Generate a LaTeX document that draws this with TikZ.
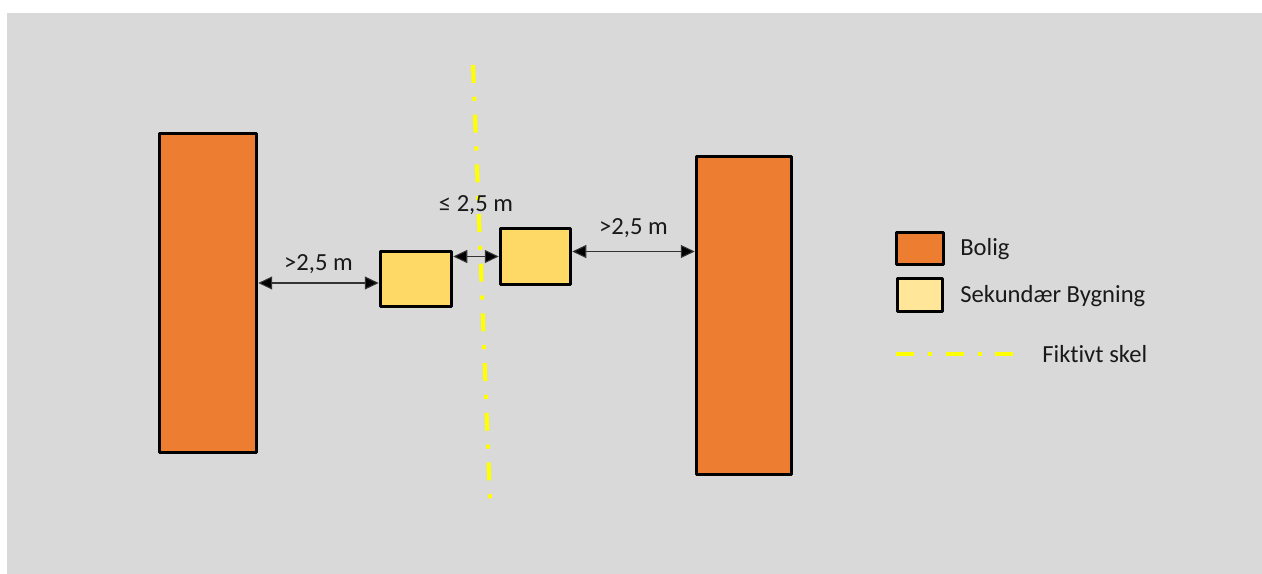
\documentclass[tikz,border=0pt]{standalone}
\usepackage{fontspec}
\setmainfont{Carlito}[Ligatures=NoCommon]
\usetikzlibrary{arrows.meta}

\definecolor{bggray}{HTML}{D9D9D9}
\definecolor{boligorange}{HTML}{ED7D31}
\definecolor{sekyellow}{HTML}{FFD966}
\definecolor{seklight}{HTML}{FFE699}
\definecolor{skelyellow}{HTML}{FFFF00}

\begin{document}
\begin{tikzpicture}[x=0.02cm,y=-0.02cm,line join=round,
  font=\fontsize{14}{16}\selectfont,text=black!90,
  bolig/.style={draw=black,line width=2pt,fill=boligorange,inner sep=0pt},
  sekbox/.style={draw=black,line width=2pt,fill=sekyellow,inner sep=0pt},
  dim/.style={draw=black!80,line width=0.6pt,
    arrows={Triangle[length=0.28cm,width=0.26cm,fill=black]-Triangle[length=0.28cm,width=0.26cm,fill=black]}},
  skel/.style={draw=skelyellow,line width=2.3pt,
    dash pattern=on 10.2pt off 7.9pt on 2.3pt off 7.9pt},
  lbl/.style={inner sep=0pt}]

\useasboundingbox (0,0) rectangle (1262,574);
\fill[bggray] (7,13) rectangle (1262,574);

% boliger
\node[bolig,minimum width=1.94cm,minimum height=6.38cm] (lbolig) at (208,293) {};
\node[bolig,minimum width=1.9cm,minimum height=6.36cm] (rbolig) at (744,315.5) {};

% sekundaere bygninger
\node[sekbox,minimum width=1.42cm,minimum height=1.1cm] (sek1) at (416,279) {};
\node[sekbox,minimum width=1.4cm,minimum height=1.12cm] (sek2) at (535.5,256.5) {};

% fiktivt skel
\coordinate (skeltop) at (473,65);
\coordinate (skelbot) at (490,500);
\draw[skel] (skeltop) -- (skelbot);

% afstande
\coordinate (dimA) at ([yshift=-0.08cm]sek1.west);
\coordinate (dimC) at ([yshift=0.1cm]sek2.east);
\draw[dim] (dimA) -- node[lbl,above=0.18cm] {>2,5 m} (lbolig.east |- dimA);
\draw[dim] (sek1.east |- sek2.west) -- node[lbl,above=0.82cm] {≤ 2,5 m} (sek2.west);
\draw[dim] (dimC) -- node[lbl,above=0.26cm] {>2,5 m} (rbolig.west |- dimC);

% signatur
\node[bolig,minimum width=0.94cm,minimum height=0.64cm] (legbolig) at (920,248.5) {};
\node[lbl,anchor=west] (txtbolig) at (960,249) {Bolig};
\node[sekbox,fill=seklight,minimum width=0.9cm,minimum height=0.66cm] (legsek) at (920,295) {};
\node[lbl,anchor=west] (txtsek) at (960,296) {Sekundær Bygning};
\coordinate (legskela) at (896,354);
\coordinate (legskelb) at (1015,354);
\draw[skel] (legskela) -- (legskelb);
\node[lbl,anchor=west] (txtskel) at (1042,354) {Fiktivt skel};

\end{tikzpicture}
\end{document}
